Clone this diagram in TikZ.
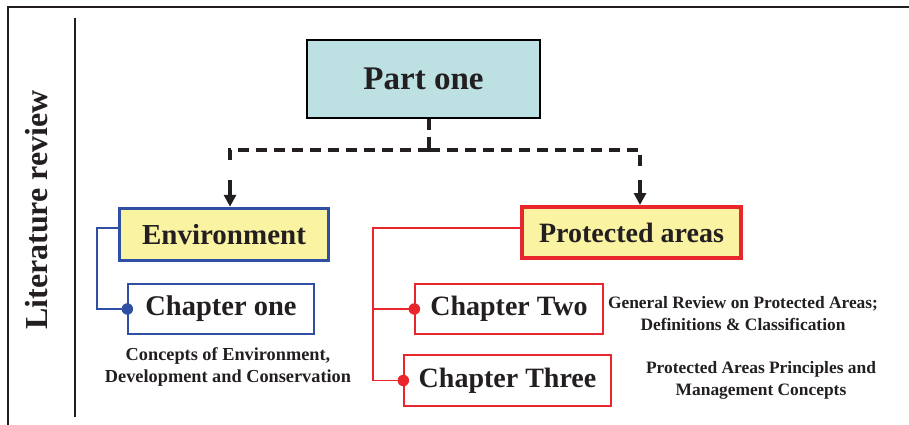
\documentclass[tikz,border=0pt]{standalone}
\usepackage{fontspec}
\setmainfont{Liberation Serif}
\usetikzlibrary{arrows.meta}
\definecolor{txt}{HTML}{231F20}
\definecolor{partfill}{HTML}{BDE0E3}
\definecolor{yel}{HTML}{FAF3A2}
\definecolor{bluel}{HTML}{2F4FA2}
\definecolor{redl}{HTML}{E8262B}
\tikzset{
  fs/.style={font=\fontsize{#1}{#1}\selectfont\bfseries},
  box/.style={draw, rectangle, inner sep=0pt, text=txt},
  desc/.style={align=center, text=txt, font=\fontsize{#1}{22}\selectfont\bfseries},
  dashline/.style={line width=3.2pt, dash pattern=on 11pt off 7pt, txt},
  arrline/.style={line width=3.2pt, txt, -{Triangle[length=12pt,width=12pt]}},
  bconn/.style={bluel, line width=1.3pt},
  rconn/.style={redl, line width=1.3pt},
  dotb/.style={circle, fill=bluel, inner sep=0pt, minimum size=11.5pt},
  dotr/.style={circle, fill=redl, inner sep=0pt, minimum size=11.5pt},
}
\begin{document}
\begin{tikzpicture}[x=1pt,y=-1pt]
\useasboundingbox (0,0) rectangle (909,425);
% frame
\draw[txt, line width=1.5pt] (8,425) -- (8,7) -- (909,7);
\draw[txt, line width=1.5pt] (75,18) -- (75,417);
\node[txt, fs=32, rotate=90] (lit) at (37,210) {Literature review};
% nodes
\node[box, fs=33, fill=partfill, line width=1.2pt, minimum width=233pt, minimum height=78pt] (part) at (423.5,79) {Part one};
\node[box, fs=29, fill=yel, draw=bluel, line width=3.5pt, minimum width=209pt, minimum height=52pt] (env) at (224,234.5) {Environment};
\node[box, fs=28.5, draw=bluel, line width=1.3pt, minimum width=186pt, minimum height=50pt] (ch1) at (221,309) {Chapter one};
\node[box, fs=28, fill=yel, draw=redl, line width=4pt, minimum width=219pt, minimum height=51pt] (prot) at (631.5,232.5) {Protected areas};
\node[box, fs=28, draw=redl, line width=1.3pt, minimum width=188pt, minimum height=50pt] (ch2) at (509,309) {Chapter Two};
\node[box, fs=28, draw=redl, line width=1.3pt, minimum width=207pt, minimum height=51pt] (ch3) at (507.5,380.5) {Chapter Three};
\node[desc=18.3] (envd) at (228,367) {Concepts of Environment,\\Development and Conservation};
\node[desc=17.4] (ch2d) at (743,314) {General Review on Protected Areas;\\Definitions \& Classification};
\node[desc=17.4] (ch3d) at (761,380) {Protected Areas Principles and\\Management Concepts};
% dashed arrows
\coordinate (hub) at (429,150);
\coordinate (ea) at ([xshift=6pt]env.north);
\coordinate (pa) at ([xshift=8.5pt]prot.north);
\draw[dashline] (part.south -| hub) -- (hub);
\draw[dashline] (hub) -| ([yshift=40pt]ea);
\draw[dashline] (hub) -| ([yshift=38pt]pa);
\draw[arrline] ([yshift=27pt]ea) -- (ea);
\draw[arrline] ([yshift=25pt]pa) -- (pa);
% blue connector
\coordinate (bt) at (97,228);
\draw[bconn] ([yshift=6.5pt]env.west) -- (bt) |- (ch1.west);
\node[dotb] (d1) at (ch1.west) {};
% red connector
\coordinate (rt) at (373,228);
\draw[rconn] ([yshift=4.5pt]prot.west) -- (rt) |- (ch3.west);
\draw[rconn] (rt |- ch2.west) -- (ch2.west);
\node[dotr] (d2) at (ch2.west) {};
\node[dotr] (d3) at (ch3.west) {};
\end{tikzpicture}
\end{document}
